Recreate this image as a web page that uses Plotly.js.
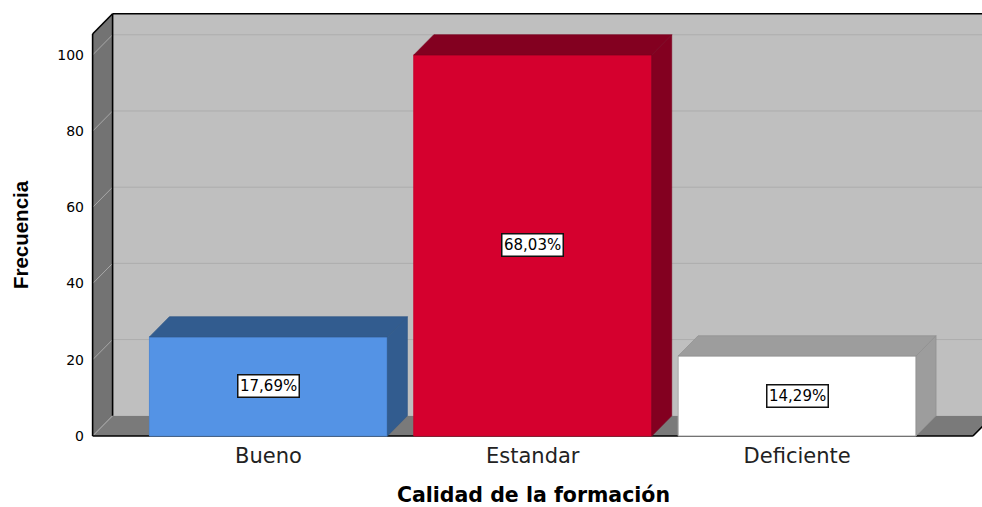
<!DOCTYPE html>
<html>
<head>
<meta charset="utf-8">
<script src="https://cdn.plot.ly/plotly-3.0.1.min.js"></script>
<style>html,body{margin:0;padding:0;background:#fff;overflow:hidden}</style>
</head>
<body>
<div id="chart" style="width:982px;height:507px"></div>
<script>
const categories = ['Bueno', 'Estandar', 'Deficiente'];
const counts = [26, 100, 21];
const percentLabels = ['17,69%', '68,03%', '14,29%'];
const frontColors = ['#5493e5', '#d5002e', '#ffffff'];
const edgeColors = ['#4f8ad6', '#c9002b', '#a8a8a8'];
const shadeColors = ['#325c8f', '#830020', '#9d9d9d'];
const shadeEdges = ['#2f5787', '#7a001e', '#8f8f8f'];
const yTicks = [0, 20, 40, 60, 80, 100];
const positions = [0, 1, 2];

const barWidth = 0.9, dx = 0.0756, dy = 5.3;
const xL = -0.665, xR = 2.665, yTop = 105.5;

function poly(pts){ return 'M' + pts.map(p => p[0] + ',' + p[1]).join('L') + 'Z'; }
function seg(x0, y0, x1, y1, color, width){
  return {type:'line', layer:'below', xref:'x', yref:'y', x0, y0, x1, y1, line:{color, width}};
}
function face(pts, color){
  return {type:'path', layer:'below', xref:'x', yref:'y', path:poly(pts), fillcolor:color, line:{width:0}};
}

const shapes = [
  face([[xL+dx,dy],[xR+dx,dy],[xR+dx,yTop+dy],[xL+dx,yTop+dy]], '#bfbfbf'),
  face([[xL,0],[xL+dx,dy],[xL+dx,yTop+dy],[xL,yTop]], '#737373'),
  face([[xL,0],[xR,0],[xR+dx,dy],[xL+dx,dy]], '#7a7a7a')
];
yTicks.forEach(v => {
  if (v > 0) shapes.push(seg(xL+dx, v+dy, xR+dx, v+dy, '#adadad', 1));
  shapes.push(seg(xL, v, xL+dx, v+dy, '#a8a8a8', 1));
});
shapes.push(seg(xL+dx, dy, xL+dx, yTop+dy, '#000', 1.6));
shapes.push(seg(xL+dx, yTop+dy, xR+dx, yTop+dy, '#000', 1.6));
shapes.push(seg(xL, 0, xL, yTop, '#000', 1.6));
shapes.push(seg(xL, yTop, xL+dx, yTop+dy, '#000', 1.6));
shapes.push(seg(xL, 0, xR, 0, '#000', 1.6));
shapes.push(seg(xR, 0, xR+dx, dy, '#000', 1.6));

const traces = [{
  type:'bar', x:positions, y:counts, width:barWidth,
  marker:{color:frontColors, line:{color:edgeColors, width:1}},
  hoverinfo:'skip', showlegend:false
}];
positions.forEach((p, i) => {
  const a = p - barWidth/2, b = p + barWidth/2, v = counts[i];
  const top = [[a,v],[b,v],[b+dx,v+dy],[a+dx,v+dy],[a,v]];
  const side = [[b,0],[b+dx,dy],[b+dx,v+dy],[b,v],[b,0]];
  [top, side].forEach(pts => traces.push({
    type:'scatter', mode:'lines', x:pts.map(q=>q[0]), y:pts.map(q=>q[1]),
    fill:'toself', fillcolor:shadeColors[i], line:{color:shadeEdges[i], width:0.7},
    hoverinfo:'skip', showlegend:false
  }));
});

const annotations = positions.map((p, i) => ({
  x:p, y:counts[i]/2, xref:'x', yref:'y', text:percentLabels[i], showarrow:false,
  bgcolor:'#ffffff', bordercolor:'#111', borderwidth:1.5, borderpad:1.5,
  font:{family:'DejaVu Sans', size:15, color:'#000'}
}));

const layout = {
  width:982, height:507, margin:{l:85, r:0, t:10, b:47},
  paper_bgcolor:'#fff', plot_bgcolor:'#fff', showlegend:false,
  shapes, annotations, bargap:0,
  xaxis:{
    range:[-0.6938, 2.6994], tickmode:'array', tickvals:positions, ticktext:categories,
    showgrid:false, zeroline:false, showline:false, ticks:'', ticklabelstandoff:-19,
    tickfont:{family:'DejaVu Sans', size:21, color:'#222'},
    title:{text:'Calidad de la formación', standoff:23, font:{family:'DejaVu Sans', size:20.5, weight:700, color:'#000'}}
  },
  yaxis:{
    range:[-6.3, 111.8], tickmode:'array', tickvals:yTicks, ticktext:yTicks.map(String),
    showgrid:false, zeroline:false, showline:false, ticks:'',
    tickfont:{family:'DejaVu Sans', size:14, color:'#000'},
    title:{text:'Frecuencia', standoff:23, font:{family:'Liberation Sans', size:20.5, weight:700, color:'#000'}}
  }
};
Plotly.newPlot('chart', traces, layout, {displayModeBar:false, staticPlot:true});
</script>
</body>
</html>
